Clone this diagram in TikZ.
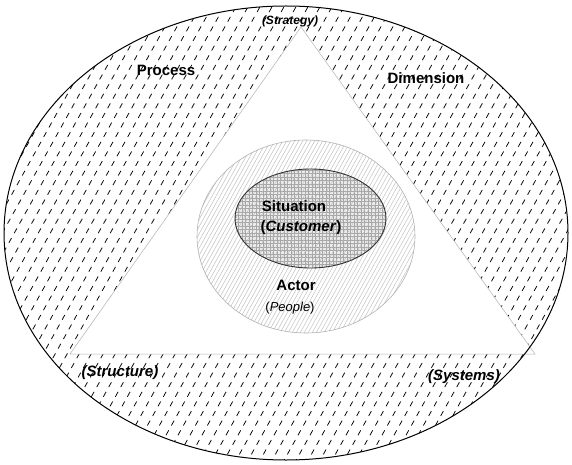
\documentclass[tikz,border=0pt]{standalone}
\usepackage{fontspec}
\setmainfont{Liberation Sans}
\begin{document}
\begin{tikzpicture}[x=1pt,y=1pt,
  lbl/.style={font=\fontsize{15}{18}\selectfont\bfseries, inner sep=0pt},
  smlbl/.style={font=\fontsize{12}{14}\selectfont\bfseries\itshape, inner sep=0pt},
  pplbl/.style={font=\fontsize{13}{15}\selectfont, inner sep=0pt},
  outerhatch/.style={line width=0.75pt, dash pattern=on 5.5pt off 5.5pt},
  finehatch/.style={gray!55, line width=0.4pt},
  gridline/.style={gray!70, line width=0.35pt}]
\useasboundingbox (0,0) rectangle (572,464);
\coordinate (A) at (301,437);
\coordinate (L) at (70,110);
\coordinate (R) at (535,110);
% outer hatched ring
\begin{scope}
  \clip (286,231) ellipse [x radius=282, y radius=227];
  \foreach \i in {-270,-258,...,580} \draw[outerhatch] (\i,0) -- ++(280,504);
\end{scope}
\fill[white] (A) -- (L) -- (R) -- cycle;
\draw[gray!60, line width=0.5pt] (A) -- (L) -- (R) -- cycle;
\draw[line width=1pt] (286,231) ellipse [x radius=282, y radius=227];
% middle ellipse
\begin{scope}
  \clip (306,227.5) ellipse [x radius=109, y radius=96.5];
  \foreach \i in {80,84,...,420} \draw[finehatch] (\i,131) -- ++(120,216);
\end{scope}
\draw[gray!60, line width=0.6pt] (306,227.5) ellipse [x radius=109, y radius=96.5];
% inner ellipse
\begin{scope}
  \clip (310.5,245.5) ellipse [x radius=75.5, y radius=49.5];
  \fill[gray!15] (230,190) rectangle (390,300);
  \foreach \y in {196,199.5,...,296} \draw[gridline] (234,\y) -- (387,\y);
  \foreach \x in {235,238.5,...,387} \draw[gridline] (\x,195) -- (\x,296);
  \foreach \i in {80,84,...,420} \draw[finehatch] (\i,131) -- ++(120,216);
\end{scope}
\draw[black!80, line width=0.9pt] (310.5,245.5) ellipse [x radius=75.5, y radius=49.5];
% labels
\node[smlbl] (strategy) at (290,443) {(Strategy)};
\node[lbl] (process) at (166,394) {Process};
\node[lbl] (dimension) at (426,386) {Dimension};
\node[lbl] (situation) at (294,258) {Situation};
\node[lbl] (customer) at (301,236) {(\textit{Customer})};
\node[lbl] (actor) at (296,179) {Actor};
\node[pplbl] (people) at (290,156) {(\textit{People})};
\node[lbl, font=\fontsize{15}{18}\selectfont\bfseries\itshape] (structure) at (120,91) {(Structure)};
\node[lbl, font=\fontsize{15}{18}\selectfont\bfseries\itshape] (systems) at (464,87) {(Systems)};
\end{tikzpicture}
\end{document}
